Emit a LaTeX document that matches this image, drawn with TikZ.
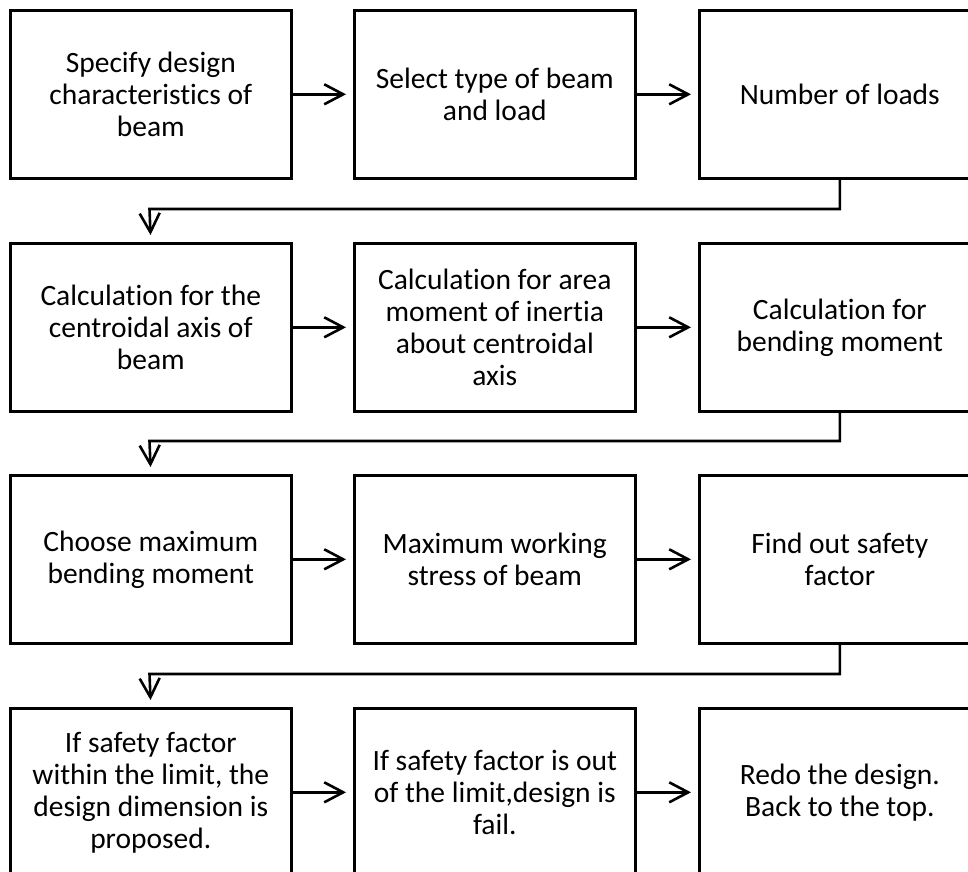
\documentclass[tikz,border=0pt]{standalone}
\usepackage{fontspec}
\setmainfont{Carlito}[Ligatures=NoCommon]
\usetikzlibrary{arrows.meta}
\begin{document}
\begin{tikzpicture}[x=1pt,y=-1pt,
  stepbox/.style={draw, line width=2.6pt, minimum width=281pt, minimum height=168pt,
    align=center, inner sep=0pt, anchor=north west,
    font=\fontsize{29.5}{32}\selectfont},
  flow/.style={line width=2.6pt, line join=miter,
    -{Straight Barb[length=19pt,width=20pt]}, shorten >=7pt}]
\useasboundingbox (0,0) rectangle (968,871);

% row 1
\node[stepbox] (a1) at (9,9)   {Specify design\\characteristics of\\beam};
\node[stepbox] (a2) at (353,9) {Select type of beam\\and load};
\node[stepbox] (a3) at (698,9) {Number of loads};
% row 2
\node[stepbox] (b1) at (9,242)   {Calculation for the\\centroidal axis of\\beam};
\node[stepbox] (b2) at (353,242) {Calculation for area\\moment of inertia\\about centroidal\\axis};
\node[stepbox] (b3) at (698,242) {Calculation for\\bending moment};
% row 3
\node[stepbox] (c1) at (9,474)   {Choose maximum\\bending moment};
\node[stepbox] (c2) at (353,474) {Maximum working\\stress of beam};
\node[stepbox] (c3) at (698,474) {Find out safety\\factor};
% row 4
\node[stepbox] (d1) at (9,707)   {If safety factor\\within the limit, the\\design dimension is\\proposed.};
\node[stepbox] (d2) at (353,707) {If safety factor is out\\of the limit,design is\\fail.};
\node[stepbox] (d3) at (698,707) {Redo the design.\\Back to the top.};

% bends of the return lines
\coordinate (k1) at (149.5,209);
\coordinate (k2) at (149.5,441);
\coordinate (k3) at (149.5,674);

% arrows within each row
\foreach \r in {a,b,c,d}{
  \draw[flow] (\r1.east) -- (\r2.west);
  \draw[flow] (\r2.east) -- (\r3.west);
}
% arrows from one row to the next
\draw[flow] (a3.south) |- (k1) -- (b1.north);
\draw[flow] (b3.south) |- (k2) -- (c1.north);
\draw[flow] (c3.south) |- (k3) -- (d1.north);
\end{tikzpicture}
\end{document}
